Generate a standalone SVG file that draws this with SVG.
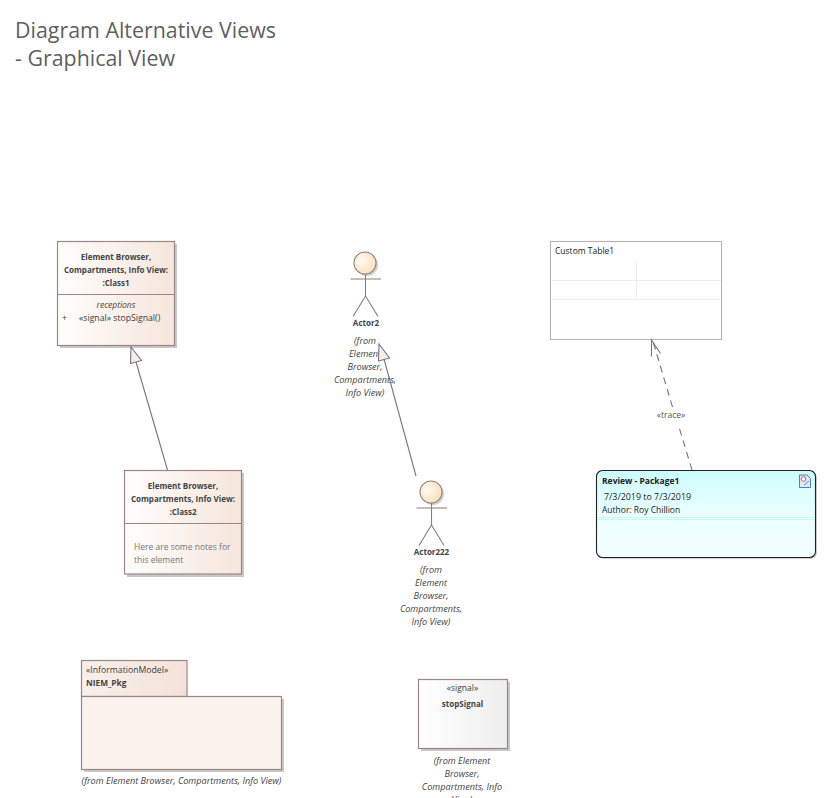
<svg xmlns="http://www.w3.org/2000/svg" width="826" height="798" viewBox="0 0 826 798">
<style>
text{font-family:"Open Sans","Noto Sans","Liberation Sans",sans-serif;font-size:8.5px;fill:#3c3c3c}
.c{text-anchor:middle}
.b{font-size:8px;font-weight:700;fill:#444}
.i{font-size:9.100px;font-style:italic;fill:#444}
.r{font-size:8.500px}
.n{font-size:8.700px}
.title{font-size:21.400px;fill:#5f5f5f}
.box{stroke:#9b8585;stroke-width:1.2}
.sh{fill:#c8c8c8}
.lim{stroke:#8d7a7a;stroke-width:1.1;fill:none}
.conn{stroke:#74748c;stroke-width:1.1;fill:none}
.hd{stroke:#74748c;stroke-width:1.1;fill:#f8eee8}
.grid{stroke:#eeeeee;stroke-width:1;fill:none}
</style>
<defs>
<linearGradient id="g1"><stop offset="0" stop-color="#fffdfb"/><stop offset="1" stop-color="#f5e6dc"/></linearGradient>
<linearGradient id="g2"><stop offset="0" stop-color="#f9f0ea"/><stop offset="1" stop-color="#f3e2da"/></linearGradient>
<linearGradient id="g3"><stop offset="0" stop-color="#ffffff"/><stop offset="1" stop-color="#eeeeee"/></linearGradient>
<linearGradient id="g4" x1="0" y1="0" x2="0" y2="1"><stop offset="0" stop-color="#ccfdff"/><stop offset="0.5" stop-color="#eaffff"/><stop offset="1" stop-color="#f3ffff"/></linearGradient>
<radialGradient id="g5" cx="0.35" cy="0.4" r="0.75"><stop offset="0" stop-color="#fffaf2"/><stop offset="1" stop-color="#fbdcb4"/></radialGradient>
</defs>

<text class="title" x="15" y="38">Diagram Alternative Views</text>
<text class="title" x="15" y="66">- Graphical View</text>

<g id="class1">
<rect class="sh" x="60" y="244" width="117" height="104"/>
<rect class="box" x="57.500" y="241.500" width="117" height="104" fill="url(#g1)"/>
<line class="box" x1="57.500" y1="294.500" x2="174.500" y2="294.500"/>
<text class="c b" x="116" y="260">Element Browser,</text>
<text class="c b" x="116" y="273">Compartments, Info View:</text>
<text class="c b" x="116" y="286">:Class1</text>
<text class="c i r" x="116" y="308">receptions</text>
<text x="62" y="321">+</text>
<text class="n" x="79" y="321">«signal» stopSignal()</text>
</g>

<g id="class2">
<rect class="sh" x="127" y="473" width="117" height="104"/>
<rect class="box" x="124.500" y="470.500" width="117" height="103.500" fill="url(#g1)"/>
<line class="box" x1="124.500" y1="523.500" x2="241.500" y2="523.500"/>
<text class="c b" x="183" y="489">Element Browser,</text>
<text class="c b" x="183" y="502">Compartments, Info View:</text>
<text class="c b" x="183" y="515">:Class2</text>
<text x="134" y="550" style="fill:#777">Here are some notes for</text>
<text x="134" y="563" style="fill:#777">this element</text>
</g>

<g id="actor2">
<circle cx="367" cy="265" r="11" fill="#cfcfcf"/>
<circle cx="365" cy="263" r="11" fill="url(#g5)" stroke="#9b8585" stroke-width="1.1"/>
<path class="lim" d="M350.500 279H381M365.500 274V296M353 316.500L365.500 296L378 316.500"/>
<text class="c b" x="366" y="326">Actor2</text>
<text class="c i" x="365" y="344">(from</text>
<text class="c i" x="365" y="357">Element</text>
<text class="c i" x="365" y="370">Browser,</text>
<text class="c i" x="365" y="383">Compartments,</text>
<text class="c i" x="365" y="396">Info View)</text>
</g>

<g id="actor222">
<circle cx="433" cy="494" r="11" fill="#cfcfcf"/>
<circle cx="431" cy="492" r="11" fill="url(#g5)" stroke="#9b8585" stroke-width="1.1"/>
<path class="lim" d="M416.500 508H447M431.500 503V525M419 545.500L431.500 525L444 545.500"/>
<text class="c b" x="431.500" y="555">Actor222</text>
<text class="c i" x="431" y="573">(from</text>
<text class="c i" x="431" y="586">Element</text>
<text class="c i" x="431" y="599">Browser,</text>
<text class="c i" x="431" y="612">Compartments,</text>
<text class="c i" x="431" y="625">Info View)</text>
</g>

<g id="customTable1">
<rect x="550.500" y="241.500" width="171" height="98" fill="#fff" stroke="#b4b4b4" stroke-width="1.1"/>
<path class="grid" d="M552 280.500H721M552 299.500H721M636.500 261V299"/>
<text x="555" y="254" style="fill:#222">Custom Table1</text>
</g>

<g id="review">
<rect x="598" y="472" width="219" height="87" rx="6" fill="#cfcfcf"/>
<rect x="596.500" y="470.500" width="219" height="87" rx="6" fill="url(#g4)" stroke="#222" stroke-width="1.1"/>
<path d="M597 517.500H815M597 519.500H815" stroke="#c6f6f8" stroke-width="1" fill="none"/>
<text x="602" y="484" style="font-weight:700;fill:#222">Review - Package1</text>
<text x="604" y="500" style="font-size:8.900px;fill:#222">7/3/2019 to 7/3/2019</text>
<text x="602" y="513" style="fill:#222">Author: Roy Chillion</text>
<path d="M799.500 475H807L810.500 478.500V487.500H799.500Z" fill="#dfe9f7" stroke="#4a6fb0" stroke-width="0.9"/>
<circle cx="803.500" cy="479" r="2.300" fill="#fff" stroke="#c05050" stroke-width="0.9"/>
<path d="M804 485L809 481" stroke="#90a8c8" stroke-width="1.200"/>
</g>

<g id="niemPkg">
<rect class="sh" x="84" y="699" width="200" height="73"/>
<rect class="box" x="81.500" y="660.500" width="105.500" height="36" fill="url(#g2)"/>
<rect class="box" x="81.500" y="696.500" width="200" height="73" fill="#fbf2ee"/>
<text class="n" x="86" y="673">«InformationModel»</text>
<text x="86" y="686" class="b" style="font-size:8.300px">NIEM_Pkg</text>
<text class="c i" x="181.500" y="784">(from Element Browser, Compartments, Info View)</text>
</g>

<g id="stopSignal">
<rect class="sh" x="421" y="682" width="89" height="69"/>
<rect class="box" x="418.500" y="679.500" width="89" height="69" fill="url(#g3)"/>
<text class="c" x="462.500" y="691">«signal»</text>
<text class="c b" x="462.500" y="707">stopSignal</text>
<text class="c i" x="462" y="764">(from Element</text>
<text class="c i" x="462" y="777">Browser,</text>
<text class="c i" x="462" y="790">Compartments, Info</text>
<text class="c i" x="462" y="803">View)</text>
</g>

<g id="connectors">
<line class="conn" x1="167.500" y1="470" x2="136" y2="362"/>
<path class="hd" d="M131 347L141.500 360.500L130.500 363.500Z"/>
<line class="conn" x1="416" y1="476" x2="384" y2="359"/>
<path class="hd" d="M379 344L389.500 358L378.500 361Z"/>
<path d="M692 470L678.700 426M672.500 407L653.500 343" stroke="#74748c" stroke-width="1.100" stroke-dasharray="7 5" fill="none"/>
<path class="conn" d="M651.500 356.500V340L660.500 353.500"/>
<text class="c" x="671" y="418" style="fill:#555">«trace»</text>
</g>
</svg>
